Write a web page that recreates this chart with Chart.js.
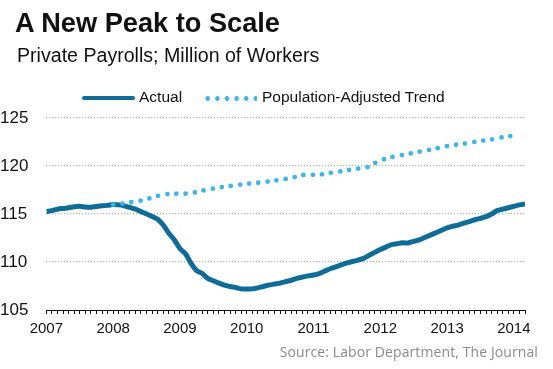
<!DOCTYPE html>
<html>
<head>
<meta charset="utf-8">
<script src="https://cdn.jsdelivr.net/npm/chart.js@4.4.1/dist/chart.umd.min.js"></script>
<style>
  body { margin: 0; background: #fff; }
  #wrap { position: relative; width: 553px; height: 369px; font-family: "Liberation Sans", Arial, sans-serif; }
  #wrap canvas { position: absolute; left: 0; top: 0; }
  .txt { position: absolute; white-space: nowrap; line-height: 1; color: #111; }
  #title { left: 15px; top: 9px; font-size: 27.2px; font-weight: bold; }
  #subtitle { left: 17px; top: 46.4px; font-size: 19.6px; }
  .lg { top: 89px; font-size: 15.5px; }
  #lgSolid { position: absolute; left: 82px; top: 95.5px; width: 53px; height: 4.5px; background: #0e6c97; border-radius: 2px; }
  #lgDots { position: absolute; left: 203px; top: 95.5px; width: 54px; height: 5px;
    background: radial-gradient(circle, #3bb6e6 2.2px, transparent 2.6px) 0 0 / 9.6px 5px repeat-x; }
  #source { right: 15px; top: 344.5px; font-family: "Open Sans", "Noto Sans", sans-serif; font-size: 14px; letter-spacing: 0.1px; color: #8a8a8a; }
</style>
</head>
<body>
<div id="wrap">
  <canvas id="chart" width="553" height="369"></canvas>
  <div class="txt" id="title">A New Peak to Scale</div>
  <div class="txt" id="subtitle">Private Payrolls; Million of Workers</div>
  <div id="lgSolid"></div>
  <div class="txt lg" style="left:139px">Actual</div>
  <div id="lgDots"></div>
  <div class="txt lg" style="left:262px">Population-Adjusted Trend</div>
  <div class="txt" id="source">Source: Labor Department, The Journal</div>
</div>
<script>
// monthly data, Jan 2007 .. Mar 2014
var years = ["2007", "2008", "2009", "2010", "2011", "2012", "2013", "2014"];

var actual = [
    115.25, 115.35, 115.5, 115.58, 115.65, 115.75, 115.8, 115.72, 115.7, 115.78, 115.85, 115.9,
    115.98, 115.95, 115.85, 115.68, 115.5, 115.25, 115.0, 114.75, 114.45, 113.85, 113.0, 112.3,
    111.4, 110.85, 109.85, 109.1, 108.8, 108.3, 108.05, 107.8, 107.6, 107.45, 107.35, 107.2,
    107.2, 107.2, 107.3, 107.45, 107.6, 107.7, 107.8, 107.95, 108.1, 108.3, 108.42, 108.55,
    108.65, 108.8, 109.05, 109.3, 109.5, 109.7, 109.9, 110.05, 110.2, 110.38, 110.7, 111.0,
    111.3, 111.55, 111.8, 111.9, 112.0, 111.98, 112.15, 112.3, 112.55, 112.8, 113.05, 113.3,
    113.55, 113.72, 113.85, 114.05, 114.2, 114.4, 114.55, 114.72, 115.0, 115.35, 115.5, 115.65,
    115.8, 115.95, 116.05
];

// trend starts Jan 2008 (month 12), ends Jan 2014
var trendStart = 12;
var trend = [
    115.98, 116.05, 116.1, 116.2, 116.3, 116.4, 116.55, 116.7, 116.88, 117.0, 117.1, 117.12,
    117.12, 117.12, 117.18, 117.27, 117.42, 117.55, 117.65, 117.75, 117.85, 117.92, 118.0, 118.08,
    118.15, 118.2, 118.25, 118.32, 118.4, 118.48, 118.55, 118.65, 118.75, 118.9, 119.05, 119.12,
    119.08, 119.1, 119.18, 119.28, 119.38, 119.45, 119.55, 119.63, 119.73, 119.83, 119.93, 120.3,
    120.6, 120.75, 120.92, 121.05, 121.15, 121.25, 121.38, 121.48, 121.6, 121.7, 121.82, 121.95,
    122.07, 122.15, 122.25, 122.32, 122.4, 122.52, 122.62, 122.67, 122.77, 122.88, 123.0, 123.08,
    123.18
];

var yTicks = [105, 110, 115, 120, 125];

var actualPoints = actual.map(function (v, i) { return {x: i, y: v}; });
var trendPoints = trend.map(function (v, i) { return {x: trendStart + i, y: v}; });

var ctx = document.getElementById("chart").getContext('2d');
var chart = new Chart(ctx, {
    type: 'line',
    data: {
        datasets: [{
            label: "Population-Adjusted Trend",
            data: trendPoints,
            borderColor: '#3bb6e6',
            borderWidth: 4.8,
            borderDash: [0, 9.2],
            borderCapStyle: 'round',
            pointRadius: 0,
            tension: 0.2
        }, {
            label: "Actual",
            data: actualPoints,
            borderColor: '#0e6c97',
            borderWidth: 5,
            borderJoinStyle: 'round',
            pointRadius: 0,
            tension: 0.3
        }]
    },
    options: {
        responsive: false,
        animation: false,
        events: [],
        layout: {padding: {left: 0, right: 28, top: 118, bottom: 25}},
        plugins: {legend: {display: false}, tooltip: {enabled: false}},
        scales: {
            x: {
                type: 'linear',
                min: 0,
                max: actual.length - 1,
                offset: false,
                grid: {drawOnChartArea: false, drawTicks: true, tickLength: 4, color: '#111', lineWidth: 1},
                border: {display: true, color: '#111', width: 1},
                ticks: {
                    stepSize: 1,
                    autoSkip: false,
                    maxRotation: 0,
                    padding: 6,
                    color: '#111',
                    font: {family: '"Liberation Sans", Arial, sans-serif', size: 15},
                    callback: function (v) {
                        return v % 12 === 0 ? years[v / 12] : '';
                    }
                }
            },
            y: {
                min: yTicks[0],
                max: yTicks[yTicks.length - 1],
                afterBuildTicks: function (axis) {
                    axis.ticks = yTicks.map(function (v) { return {value: v}; });
                },
                grid: {
                    drawTicks: false,
                    lineWidth: 1.2,
                    color: function (c) { return c.tick && c.tick.value === 105 ? 'rgba(0,0,0,0)' : '#b0b0b0'; }
                },
                border: {display: false, dash: [1.2, 1.8]},
                ticks: {
                    padding: 9,
                    crossAlign: 'far',
                    color: '#111',
                    font: {family: '"Liberation Sans", Arial, sans-serif', size: 17}
                }
            }
        }
    }
});
</script>
</body>
</html>
